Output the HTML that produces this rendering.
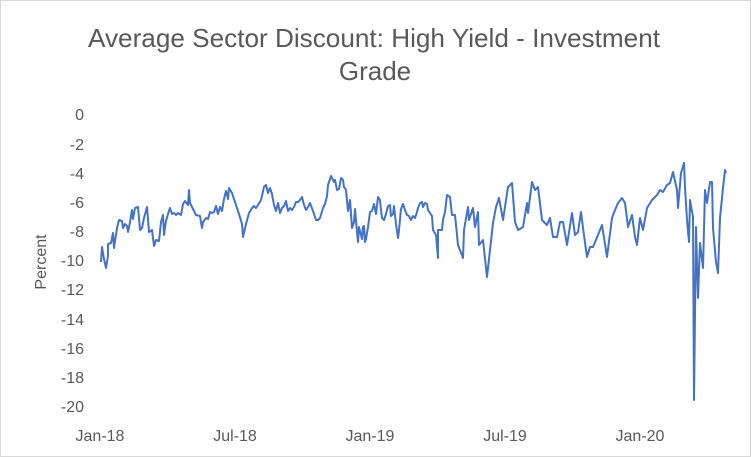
<!DOCTYPE html>
<html><head><style>
body{margin:0;background:#fff}
svg{display:block;font-family:"Liberation Sans",sans-serif}
</style></head><body>
<svg width="751" height="457" viewBox="0 0 751 457">
<rect x="0.5" y="0.5" width="750" height="456" fill="#fff" stroke="#d9d9d9"/>
<text x="374" y="47" text-anchor="middle" font-size="26" fill="#595959" textLength="572" lengthAdjust="spacingAndGlyphs">Average Sector Discount: High Yield - Investment</text>
<text x="375" y="80" text-anchor="middle" font-size="26" fill="#595959">Grade</text>
<g font-size="16" fill="#595959" text-anchor="end">
<text x="84" y="120">0</text><text x="84" y="150">-2</text><text x="84" y="179">-4</text><text x="84" y="208">-6</text><text x="84" y="237">-8</text><text x="84" y="266">-10</text><text x="84" y="295">-12</text><text x="84" y="325">-14</text><text x="84" y="354">-16</text><text x="84" y="383">-18</text><text x="84" y="412">-20</text>
</g>
<g font-size="16" fill="#595959" text-anchor="middle">
<text x="100" y="441">Jan-18</text><text x="235" y="441">Jul-18</text><text x="370" y="441">Jan-19</text><text x="505" y="441">Jul-19</text><text x="640" y="441">Jan-20</text>
</g>
<text transform="translate(46,262) rotate(-90)" text-anchor="middle" font-size="16" fill="#595959">Percent</text>
<polyline fill="none" stroke="#4472c4" stroke-width="2" stroke-linejoin="round" points="101,262 102,247 104,259 106,268 108,256 108,244 111,243 113,233 114,248 117,228 119,220 122,221 123,228 125,224 127,226 128,232 130,222 132,210 133,219 135,208 138,207 140,230 142,228 144,218 147,207 149,232 152,230 154,246 156,240 159,241 161,222 163,215 164,235 166,221 168,214 170,208 172,214 174,213 176,215 178,213 181,215 183,204 185,201 188,205 189,190 190,203 192,207 194,211 196,215 200,216 202,228 203,222 206,218 208,219 210,212 212,213 214,212 216,206 218,214 220,207 222,211 224,199 226,191 228,199 229,188 232,193 235,202 237,208 239,214 242,224 243,237 246,224 249,213 252,208 254,206 256,208 258,205 261,200 264,187 266,185 268,193 270,188 272,194 274,205 276,211 278,203 280,213 282,208 284,206 286,201 288,211 290,208 292,210 294,207 296,202 298,202 300,200 302,197 304,205 306,210 308,207 310,203 313,211 316,220 318,220 320,218 323,208 325,204 327,196 328,185 331,176 334,182 335,180 337,190 339,189 341,178 343,180 344,187 346,190 348,211 350,200 352,228 354,222 355,209 357,232 358,242 359,227 362,239 363,227 364,226 365,242 366,239 368,227 370,212 372,211 374,204 376,214 378,197 380,200 381,210 382,218 384,220 386,214 388,206 390,205 391,216 393,214 394,206 396,224 398,238 399,230 401,209 403,204 405,210 407,215 409,216 411,220 413,216 415,218 417,212 418,208 420,203 422,202 423,207 425,203 427,204 428,210 432,216 433,230 436,235 438,258 438,230 442,230 443,220 445,212 447,195 450,197 452,215 455,215 458,245 463,258 464,230 468,207 469,220 473,208 475,227 478,212 479,245 483,240 487,277 493,223 496,207 499,198 503,220 508,187 512,183 515,222 518,230 523,227 527,203 528,213 532,182 535,190 538,187 542,220 547,225 550,218 553,237 557,237 560,222 563,222 567,245 572,213 575,235 578,232 581,212 583,228 587,257 590,247 593,247 598,235 602,225 607,257 612,218 615,210 618,203 622,198 625,203 628,227 632,215 635,237 637,245 640,218 643,230 647,208 652,200 657,195 660,190 663,192 667,185 670,183 673,172 677,190 678,208 681,173 684,163 685,187 687,220 689,242 690,200 693,217 694,400 696,227 698,298 700,243 703,268 705,190 707,203 710,182 712,182 713,228 716,262 718,273 720,218 723,188 725,170 726,173"/>
</svg>
</body></html>
